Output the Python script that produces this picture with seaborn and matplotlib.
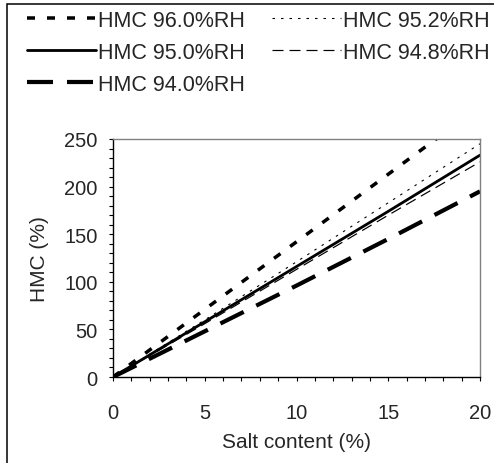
import matplotlib
matplotlib.use("Agg")
import matplotlib.pyplot as plt
import seaborn as sns
import pandas as pd
from matplotlib.patches import Rectangle
from matplotlib.ticker import MultipleLocator

salt = [0, 5, 10, 15, 20]
hmc_960 = [0, 71, 142, 213, 284]
hmc_952 = [0, 60, 121, 183, 245]
hmc_950 = [0, 58, 116, 174, 233]
hmc_948 = [0, 56, 113, 170, 226]
hmc_940 = [0, 48, 96, 145, 195]
labels = ["HMC 96.0%RH", "HMC 95.2%RH", "HMC 95.0%RH", "HMC 94.8%RH", "HMC 94.0%RH"]

sns.set_theme(style="white")
plt.rcParams['font.family'] = ['Liberation Sans', 'DejaVu Sans']
plt.rcParams['lines.scale_dashes'] = False

W, H = 494, 464
fig = plt.figure(figsize=(W / 100, H / 100), dpi=100)
ax = fig.add_axes([113 / W, 1 - 378 / H, (480 - 113) / W, (378 - 140) / H])

px = 0.72
styles = {
    labels[0]: dict(lw=3.5 * px, ls=(0, (8 * px, 12 * px))),
    labels[1]: dict(lw=1.1 * px, ls=(0, (2.5 * px, 6 * px))),
    labels[2]: dict(lw=2.8 * px, ls='-'),
    labels[3]: dict(lw=1.2 * px, ls=(0, (11 * px, 6 * px))),
    labels[4]: dict(lw=4.2 * px, ls=(0, (26 * px, 14 * px))),
}
series = [hmc_960, hmc_952, hmc_950, hmc_948, hmc_940]
handles = {}
for lab, ys in zip(labels, series):
    df = pd.DataFrame({"x": salt, "y": ys})
    sns.lineplot(data=df, x="x", y="y", ax=ax, color="black",
                 linewidth=styles[lab]['lw'], linestyle=styles[lab]['ls'],
                 label=lab, legend=False)
    handles[lab] = ax.lines[-1]

ax.set_xlim(0, 20)
ax.set_ylim(0, 250)
ax.xaxis.set_major_locator(MultipleLocator(5))
ax.xaxis.set_minor_locator(MultipleLocator(1))
ax.yaxis.set_major_locator(MultipleLocator(50))
ax.yaxis.set_minor_locator(MultipleLocator(10))
ax.tick_params(which='both', direction='out', length=3, width=0.8, color='black',
               bottom=True, left=True, top=False, right=False)
ax.tick_params(axis='x', which='major', pad=16, labelsize=14.5)
ax.tick_params(axis='y', which='major', pad=8, labelsize=14.5)
for s in ['left', 'bottom']:
    ax.spines[s].set_color('black')
    ax.spines[s].set_linewidth(1)
for s in ['top', 'right']:
    ax.spines[s].set_color('#808080')
    ax.spines[s].set_linewidth(1)
ax.set_xlabel("Salt content (%)", fontsize=15, labelpad=7)
ax.set_ylabel("HMC (%)", fontsize=15, labelpad=11)

order = [labels[0], labels[2], labels[4], labels[1], labels[3]]
fig.legend([handles[l] for l in order], order, ncol=2, frameon=False,
           loc='upper left', bbox_to_anchor=(27 / W, 1 - 11 / H),
           borderpad=0, borderaxespad=0, fontsize=15.5,
           handlelength=3.2, handletextpad=0.1, columnspacing=1.25,
           labelspacing=0.5)

fig.patches.append(Rectangle((7 / W, -0.1), 1.2, 1.1 - 5 / H, transform=fig.transFigure,
                             fill=False, edgecolor='black', linewidth=1.1))

fig.savefig("out.png", dpi=100)
